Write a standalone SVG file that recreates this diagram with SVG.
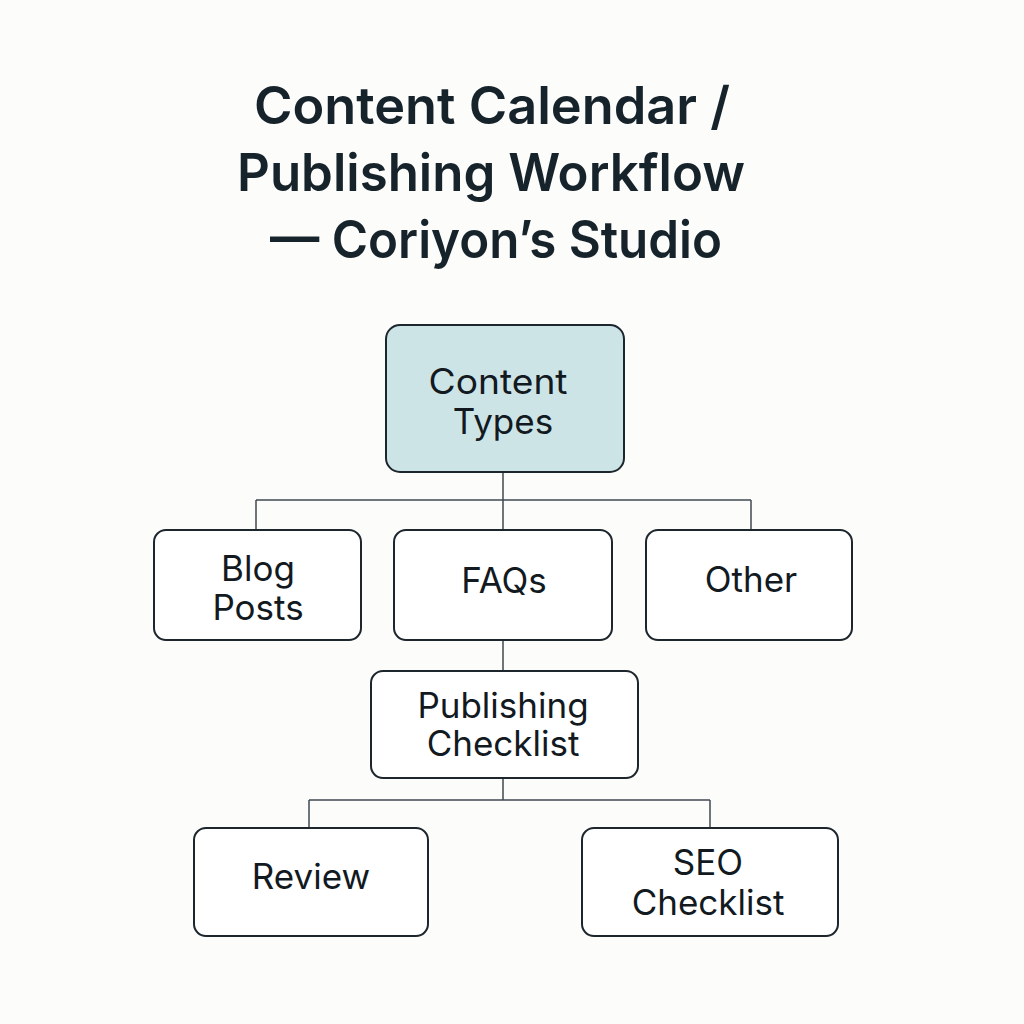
<svg xmlns="http://www.w3.org/2000/svg" width="1024" height="1024" viewBox="0 0 1024 1024">
<style>
.title{font-family:Inter,"Noto Sans","Liberation Sans",sans-serif;font-weight:600;font-size:52px;fill:#17232b;text-anchor:middle}
.box{fill:#ffffff;stroke:#1c262c;stroke-width:2}
.root{fill:#cde4e7;stroke:#1c262c;stroke-width:2}
.lbl{font-family:Inter,"Noto Sans","Liberation Sans",sans-serif;font-size:35px;fill:#121a1f;text-anchor:middle}
.conn{fill:none;stroke:#3f4a52;stroke-width:1.5}
</style>
<rect width="1024" height="1024" fill="#fcfcfb"/>
<g id="title">
<text class="title" x="492" y="124" textLength="476" lengthAdjust="spacingAndGlyphs">Content Calendar /</text>
<text class="title" x="491" y="191" textLength="508" lengthAdjust="spacingAndGlyphs">Publishing Workflow</text>
<text class="title" x="496" y="258" textLength="452" lengthAdjust="spacingAndGlyphs">— Coriyon’s Studio</text>
</g>
<g id="connectors">
<path class="conn" d="M503 472V500M256 500H751M256 500V530M503 500V530M751 500V530"/>
<path class="conn" d="M503 640V671"/>
<path class="conn" d="M503 778V800M309 800H710M309 800V828M710 800V828"/>
</g>
<g id="content-types">
<rect class="root" x="386" y="325" width="238" height="147" rx="14"/>
<text class="lbl" x="498" y="394" textLength="139" lengthAdjust="spacingAndGlyphs">Content</text>
<text class="lbl" x="503" y="434">Types</text>
</g>
<g id="blog-posts">
<rect class="box" x="154" y="530" width="207" height="110" rx="12"/>
<text class="lbl" x="258" y="581">Blog</text>
<text class="lbl" x="258" y="620">Posts</text>
</g>
<g id="faqs">
<rect class="box" x="394" y="530" width="218" height="110" rx="12"/>
<text class="lbl" x="504" y="593">FAQs</text>
</g>
<g id="other">
<rect class="box" x="646" y="530" width="206" height="110" rx="12"/>
<text class="lbl" x="751" y="592">Other</text>
</g>
<g id="publishing-checklist">
<rect class="box" x="371" y="671" width="267" height="107" rx="12"/>
<text class="lbl" x="503" y="718">Publishing</text>
<text class="lbl" x="503" y="756">Checklist</text>
</g>
<g id="review">
<rect class="box" x="194" y="828" width="234" height="108" rx="12"/>
<text class="lbl" x="311" y="889">Review</text>
</g>
<g id="seo-checklist">
<rect class="box" x="582" y="828" width="256" height="108" rx="12"/>
<text class="lbl" x="708" y="875">SEO</text>
<text class="lbl" x="708" y="915">Checklist</text>
</g>
</svg>
